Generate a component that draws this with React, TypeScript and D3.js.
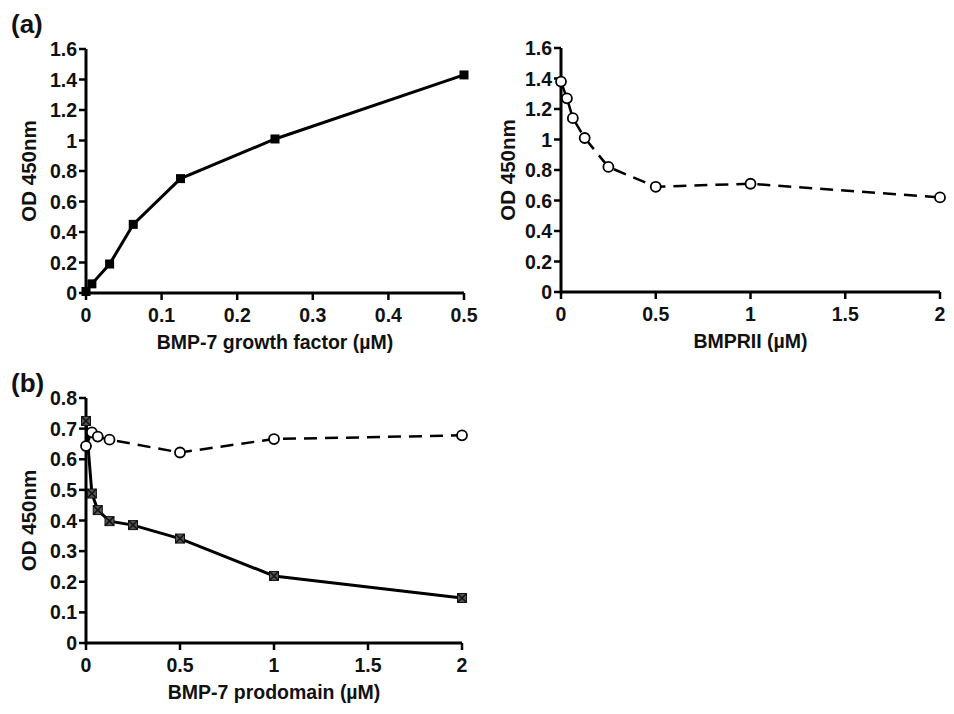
import React from "react";
import * as d3 from "d3";

// Panel (a) left: BMP-7 growth factor titration
const gfConc = [0, 0.0078, 0.03125, 0.0625, 0.125, 0.25, 0.5];
const gfOD = [0.01, 0.06, 0.19, 0.45, 0.75, 1.01, 1.43];

// Panel (a) right: BMPRII competition
const rConc = [0, 0.03125, 0.0625, 0.125, 0.25, 0.5, 1, 2];
const rOD = [1.38, 1.27, 1.14, 1.01, 0.82, 0.69, 0.71, 0.62];

// Panel (b): BMP-7 prodomain
const pSolidConc = [0, 0.03125, 0.0625, 0.125, 0.25, 0.5, 1, 2];
const pSolidOD = [0.725, 0.488, 0.434, 0.398, 0.385, 0.341, 0.219, 0.147];
const pOpenConc = [0, 0.03125, 0.0625, 0.125, 0.5, 1, 2];
const pOpenOD = [0.643, 0.688, 0.674, 0.664, 0.622, 0.666, 0.678];

const gfXTicks = [0, 0.1, 0.2, 0.3, 0.4, 0.5];
const odYTicks = [0, 0.2, 0.4, 0.6, 0.8, 1, 1.2, 1.4, 1.6];
const rXTicks = [0, 0.5, 1, 1.5, 2];
const pYTicks = [0, 0.1, 0.2, 0.3, 0.4, 0.5, 0.6, 0.7, 0.8];

const FONT = "'Liberation Sans', Arial, sans-serif";

type AxesProps = {
  x: d3.ScaleLinear<number, number>;
  y: d3.ScaleLinear<number, number>;
  xTicks: number[];
  yTicks: number[];
  xTitle: string;
  yTitleX: number;
};

function Axes({ x, y, xTicks, yTicks, xTitle, yTitleX }: AxesProps) {
  const [x0, x1] = x.range();
  const [y0, y1] = y.range();
  const fmt = (v: number) => String(v);
  return (
    <g fontFamily={FONT} fontWeight="bold" fill="#111">
      <line x1={x0} x2={x1} y1={y0} y2={y0} stroke="#000" strokeWidth={3} />
      <line x1={x0} x2={x0} y1={y0 + 1.5} y2={y1} stroke="#000" strokeWidth={3} />
      {xTicks.map((t) => (
        <g key={"x" + t}>
          <line x1={x(t)} x2={x(t)} y1={y0} y2={y0 + 7} stroke="#000" strokeWidth={2.5} />
          <text x={x(t)} y={y0 + 29} textAnchor="middle" fontSize={19.5}>
            {fmt(t)}
          </text>
        </g>
      ))}
      {yTicks.map((t) => (
        <g key={"y" + t}>
          <line x1={x0 - 7} x2={x0} y1={y(t)} y2={y(t)} stroke="#000" strokeWidth={2.5} />
          <text x={x0 - 9} y={y(t) + 7} textAnchor="end" fontSize={19.5}>
            {fmt(t)}
          </text>
        </g>
      ))}
      <text x={(x0 + x1) / 2} y={y0 + 56} textAnchor="middle" fontSize={19.5}>
        {xTitle}
      </text>
      <text
        transform={`translate(${yTitleX},${(y0 + y1) / 2}) rotate(-90)`}
        textAnchor="middle"
        fontSize={20.5}
      >
        OD 450nm
      </text>
    </g>
  );
}

export default function App() {
  // scales
  const xa = d3.scaleLinear().domain([0, 0.5]).range([86, 464]);
  const ya = d3.scaleLinear().domain([0, 1.6]).range([293, 49]);
  const xr = d3.scaleLinear().domain([0, 2]).range([561, 940]);
  const yr = d3.scaleLinear().domain([0, 1.6]).range([292, 48]);
  const xb = d3.scaleLinear().domain([0, 2]).range([86, 462]);
  const yb = d3.scaleLinear().domain([0, 0.8]).range([643, 398]);

  const lineA = d3
    .line<number>()
    .x((_, i) => xa(gfConc[i]))
    .y((d) => ya(d));
  const lineR = d3
    .line<number>()
    .x((_, i) => xr(rConc[i]))
    .y((d) => yr(d));
  const lineBS = d3
    .line<number>()
    .x((_, i) => xb(pSolidConc[i]))
    .y((d) => yb(d));
  const lineBO = d3
    .line<number>()
    .x((_, i) => xb(pOpenConc[i]))
    .y((d) => yb(d));

  const sq = 9;
  return (
    <svg
      width={954}
      height={714}
      style={{ display: "block", position: "absolute", left: 0, top: 0 }}
    >
      <rect width={954} height={714} fill="#fff" />
      <text x={11} y={33} fontFamily={FONT} fontWeight="bold" fontSize={26} fill="#111">
        (a)
      </text>
      <text x={11} y={392} fontFamily={FONT} fontWeight="bold" fontSize={26} fill="#111">
        (b)
      </text>

      {/* Panel a left */}
      <Axes x={xa} y={ya} xTicks={gfXTicks} yTicks={odYTicks} xTitle="BMP-7 growth factor (µM)" yTitleX={36} />
      <path d={lineA(gfOD) || ""} fill="none" stroke="#000" strokeWidth={3} />
      {gfOD.map((v, i) => (
        <rect key={i} x={xa(gfConc[i]) - sq / 2} y={ya(v) - sq / 2} width={sq} height={sq} fill="#000" />
      ))}

      {/* Panel a right */}
      <Axes x={xr} y={yr} xTicks={rXTicks} yTicks={odYTicks} xTitle="BMPRII (µM)" yTitleX={515} />
      <path d={lineR(rOD) || ""} fill="none" stroke="#000" strokeWidth={2.5} strokeDasharray="13,8" />
      {rOD.map((v, i) => (
        <circle key={i} cx={xr(rConc[i])} cy={yr(v)} r={5} fill="#fff" stroke="#000" strokeWidth={1.8} />
      ))}

      {/* Panel b */}
      <Axes x={xb} y={yb} xTicks={rXTicks} yTicks={pYTicks} xTitle="BMP-7 prodomain (µM)" yTitleX={36} />
      <path d={lineBO(pOpenOD) || ""} fill="none" stroke="#000" strokeWidth={2.5} strokeDasharray="13,8" />
      <path d={lineBS(pSolidOD) || ""} fill="none" stroke="#000" strokeWidth={3} />
      {pOpenOD.map((v, i) => (
        <circle key={"o" + i} cx={xb(pOpenConc[i])} cy={yb(v)} r={5} fill="#fff" stroke="#000" strokeWidth={1.8} />
      ))}
      {pSolidOD.map((v, i) => {
        const cx = xb(pSolidConc[i]);
        const cy = yb(v);
        const h = 4.5;
        return (
          <g key={"s" + i}>
            <rect x={cx - h} y={cy - h} width={2 * h} height={2 * h} fill="#555" stroke="#111" strokeWidth={1} />
            <path d={`M${cx - h},${cy - h}L${cx + h},${cy + h}M${cx + h},${cy - h}L${cx - h},${cy + h}`} stroke="#111" strokeWidth={1.5} />
          </g>
        );
      })}
    </svg>
  );
}
